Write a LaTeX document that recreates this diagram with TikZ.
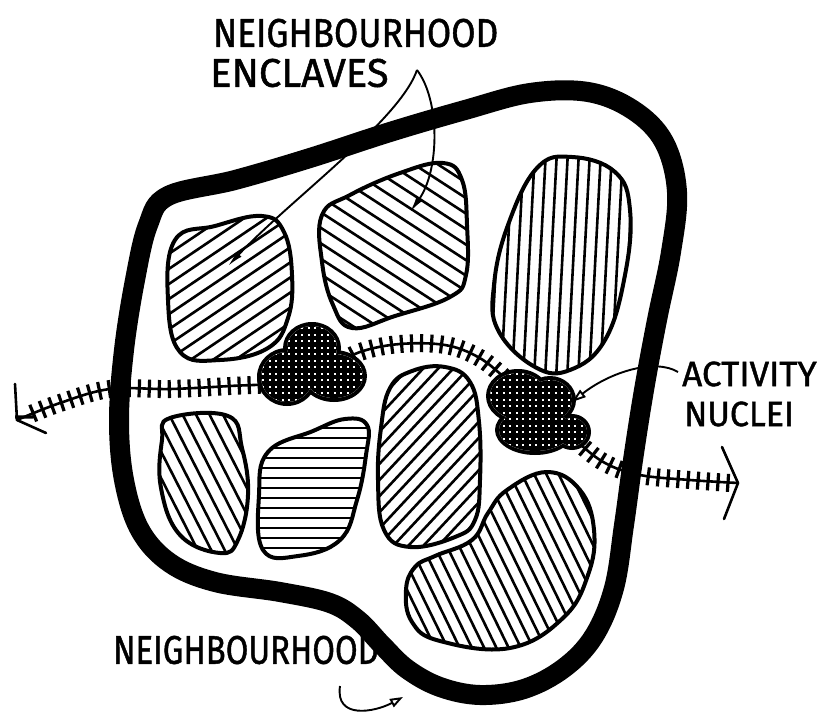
\documentclass[tikz,border=0pt]{standalone}
\usepackage{fontspec}
\setmainfont{Fira Sans}[FakeBold=1.2]
\usetikzlibrary{arrows.meta,decorations.pathreplacing,calc}

\tikzset{
  border/.style={line width=20pt, line join=round},
  blob/.style={line width=4pt, line join=round},
  hatch/.style={line width=2.6pt},
  road/.style={line width=2.6pt, line cap=round, line join=round},
  roadticks/.style={line width=3.2pt, decorate, decoration={ticks, segment length=10pt, amplitude=9pt}},
  leader/.style={line width=1.9pt},
  txt/.style={font=\fontsize{40}{40}\selectfont, inner sep=0pt, anchor=west},
  smalltxt/.style={font=\fontsize{35}{35}\selectfont, inner sep=0pt, anchor=west},
  grain/.style={line width=4.3pt, step=6.5pt},
}

\newcommand\hatchblob[4]{%
  \begin{scope}
    \clip plot[smooth cycle, tension=0.7] coordinates {#1};
    \begin{scope}[shift={#2}, rotate=#3]
      \foreach \k in {-16,...,16} \draw[hatch] (\k*#4, -150) -- (\k*#4, 150);
    \end{scope}
  \end{scope}
  \draw[blob] plot[smooth cycle, tension=0.7] coordinates {#1};
}

\begin{document}
\begin{tikzpicture}[x=1pt, y=-1pt]
\useasboundingbox (0,0) rectangle (833,717);

% outer neighbourhood boundary
\draw[border] plot[smooth cycle, tension=0.6] coordinates {
 (168,196) (235,180) (310,158) (390,132) (465,110) (530,93) (588,92) (633,110)
 (664,142) (677,192) (671,252) (657,320) (644,390) (633,460) (624,525) (614,588)
 (594,636) (564,668) (524,689) (480,695) (440,687) (407,669) (382,645) (358,620)
 (330,603) (280,592) (215,582) (170,563) (140,530) (124,480) (119,420) (124,350)
 (135,280) (148,225)};

% enclaves
\hatchblob{(175,240) (215,226) (262,216) (284,232) (292,275) (288,318) (268,348) (220,360) (180,352) (168,300)}{(230,288)}{-56}{12.5}
\hatchblob{(322,215) (350,195) (400,173) (443,163) (462,180) (467,225) (466,275) (450,297) (395,316) (352,328) (333,305) (322,262)}{(395,245)}{57}{13}
\hatchblob{(537,168) (572,157) (615,172) (630,210) (625,275) (605,340) (570,370) (535,367) (498,330) (494,285) (508,225)}{(562,265)}{-3}{11}
\hatchblob{(170,418) (228,416) (242,448) (248,495) (238,540) (220,553) (180,535) (161,488) (162,440)}{(205,485)}{27}{12}
\hatchblob{(268,452) (313,431) (345,419) (367,425) (366,455) (357,500) (340,540) (298,556) (263,550) (259,495)}{(313,488)}{90}{10}
\hatchblob{(390,388) (412,371) (445,367) (470,382) (479,422) (480,480) (475,520) (455,537) (410,547) (384,530) (378,480) (381,428)}{(430,458)}{-43}{11}
\hatchblob{(507,490) (547,472) (580,490) (594,530) (588,575) (563,618) (510,648) (440,641) (412,622) (406,590) (415,567) (435,556) (472,540) (488,513)}{(505,565)}{26}{11}

% road with ticks
\coordinate (roadL) at (17,420);
\coordinate (roadR) at (738,483);
\draw[road] plot[smooth, tension=0.6] coordinates {(roadL) (60,403) (110,389) (170,389) (230,386) (290,382) (330,368) (360,352) (400,344) (445,345) (478,357) (505,378) (540,410) (575,440) (605,463) (640,475) (690,480) (roadR)};
\draw[roadticks] plot[smooth, tension=0.6] coordinates {(24,417) (60,403) (110,389) (170,389) (230,386) (290,382) (330,368) (360,352) (400,344) (445,345) (478,357) (505,378) (540,410) (575,440) (605,463) (640,475) (690,480) (730,483)};
\draw[road] (15,384) -- (roadL) -- (46,433);
\draw[road] (722,447) -- (roadR) -- (724,519);

% activity nuclei
\fill (312,348) ellipse [x radius=29pt, y radius=26pt];
\fill (287,377) ellipse [x radius=30pt, y radius=29pt];
\fill (334,376) ellipse [x radius=33pt, y radius=26pt];
\begin{scope}
  \clip (312,348) ellipse [x radius=25pt, y radius=22pt]
        (287,377) ellipse [x radius=26pt, y radius=25pt]
        (334,376) ellipse [x radius=29pt, y radius=22pt];
  \fill[white] (250,320) rectangle (370,410);
  \draw[grain] (250,320) grid (370,410);
\end{scope}
\fill (518,396) ellipse [x radius=32pt, y radius=27pt];
\fill (550,400) ellipse [x radius=26pt, y radius=24pt];
\fill (535,430) ellipse [x radius=40pt, y radius=25pt];
\fill (572,432) ellipse [x radius=19pt, y radius=18pt];
\begin{scope}
  \clip (518,396) ellipse [x radius=28pt, y radius=23pt]
        (550,400) ellipse [x radius=22pt, y radius=20pt]
        (535,430) ellipse [x radius=36pt, y radius=21pt]
        (572,432) ellipse [x radius=15pt, y radius=14pt];
  \fill[white] (480,365) rectangle (600,460);
  \draw[grain] (480,365) grid (600,460);
\end{scope}

% labels
\node[txt, xscale=0.88] (lblTop) at (213,33) {NEIGHBOURHOOD};
\node[txt, xscale=1.0] (lblEncl) at (210,73) {ENCLAVES};
\node[smalltxt, xscale=1.0] (lblAct) at (682,374) {ACTIVITY};
\node[smalltxt, xscale=0.97] (lblNuc) at (684,414) {NUCLEI};
\node[txt, xscale=0.82] (lblBot) at (113,650) {NEIGHBOURHOOD};

% leaders
\coordinate (encl) at (417,70);
\coordinate (tipA) at (228,266);
\coordinate (tipB) at (410,212);
\draw[leader, -{Latex[length=16pt, width=7pt]}] (encl) .. controls (400,120) and (290,200) .. (tipA);
\draw[leader, -{Latex[length=16pt, width=7pt]}] (encl) .. controls (440,100) and (440,170) .. (tipB);
\coordinate (actS) at (678,372);
\coordinate (actT) at (572,402);
\draw[leader, -{Triangle[open, length=14pt, width=9pt, fill=white]}] (actS) .. controls (655,358) and (610,372) .. (actT);
\coordinate (botS) at (340,686);
\coordinate (botT) at (403,697);
\draw[leader, -{Triangle[open, length=13pt, width=9pt, fill=white]}] (botS) .. controls (335,720) and (375,712) .. (botT);
\end{tikzpicture}
\end{document}
